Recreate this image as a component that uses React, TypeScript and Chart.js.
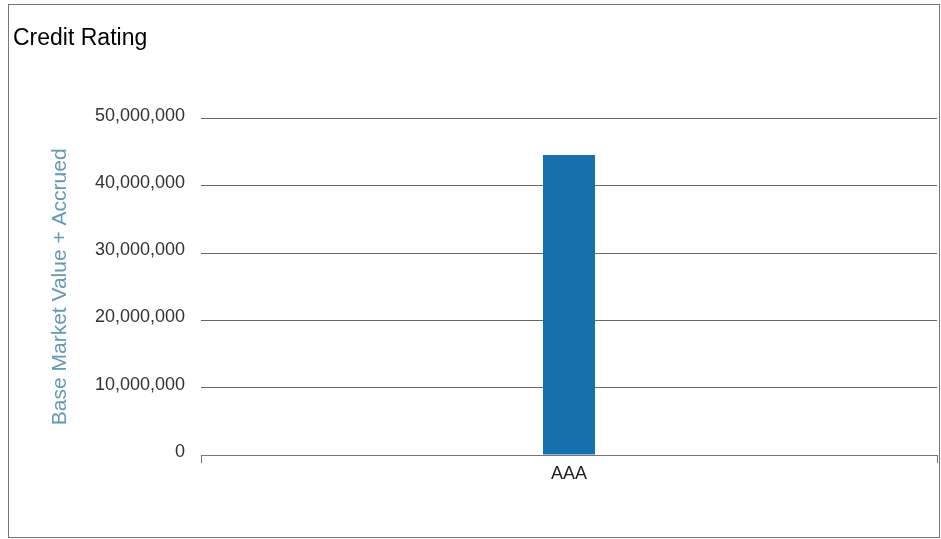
import React, { useEffect, useRef } from "react";
import { Chart, registerables } from "chart.js";

Chart.register(...registerables);

const categories = ["AAA"];
const seriesValues = [44600000];
const yTickValues = [0, 10000000, 20000000, 30000000, 40000000, 50000000];

export default function App() {
  const ref = useRef<HTMLCanvasElement | null>(null);

  useEffect(() => {
    if (!ref.current) return;
    const chart = new Chart(ref.current, {
      type: "bar",
      data: {
        labels: categories,
        datasets: [
          {
            label: "Base Market Value + Accrued",
            data: seriesValues,
            backgroundColor: "#1570ad",
            borderWidth: 0,
            barPercentage: 0.0707,
            categoryPercentage: 1,
          },
        ],
      },
      options: {
        responsive: false,
        animation: false,
        layout: { padding: { left: 13, right: 4, top: 0, bottom: 0 } },
        plugins: {
          legend: { display: false },
          tooltip: { enabled: false },
          title: {
            display: true,
            text: "Credit Rating",
            align: "start",
            color: "#000",
            font: { family: "Arial, 'Liberation Sans', sans-serif", size: 23, weight: "normal" },
            padding: { top: 25, bottom: 66 },
          },
        },
        scales: {
          x: {
            grid: {
              display: true,
              drawOnChartArea: false,
              drawTicks: true,
              tickLength: 8,
              color: "#777",
              offset: true,
            },
            border: { display: true, color: "#777", width: 1 },
            ticks: {
              color: "#222",
              padding: 0,
              font: { family: "Arial, 'Liberation Sans', sans-serif", size: 18 },
            },
            afterFit: (scale: any) => {
              scale.height = 84;
            },
          },
          y: {
            min: 0,
            max: 50000000,
            afterBuildTicks: (scale: any) => {
              scale.ticks = yTickValues.map((v) => ({ value: v }));
            },
            grid: { color: "#666", lineWidth: 1, drawTicks: false },
            border: { display: false },
            ticks: {
              color: "#333",
              padding: 16,
              labelOffset: -3,
              font: { family: "Arial, 'Liberation Sans', sans-serif", size: 18 },
              callback: (v: any) => Number(v).toLocaleString("en-US"),
            },
            title: {
              display: true,
              text: "Base Market Value + Accrued",
              color: "#6699b3",
              font: { family: "Arial, 'Liberation Sans', sans-serif", size: 21 },
              padding: { top: 35, bottom: 0 },
            },
            afterFit: (scale: any) => {
              scale.width = 188;
            },
          },
        },
      },
    });
    return () => chart.destroy();
  }, []);

  return (
    <div style={{ position: "fixed", left: 0, top: 0, width: 941, height: 539, background: "#fff" }}>
      <div
        style={{
          position: "absolute",
          left: 8,
          top: 4,
          width: 932,
          height: 534,
          boxSizing: "border-box",
          border: "1px solid #777",
        }}
      />
      <canvas
        ref={ref}
        width={941}
        height={539}
        style={{ position: "absolute", left: 0, top: 0, width: 941, height: 539 }}
      />
    </div>
  );
}
